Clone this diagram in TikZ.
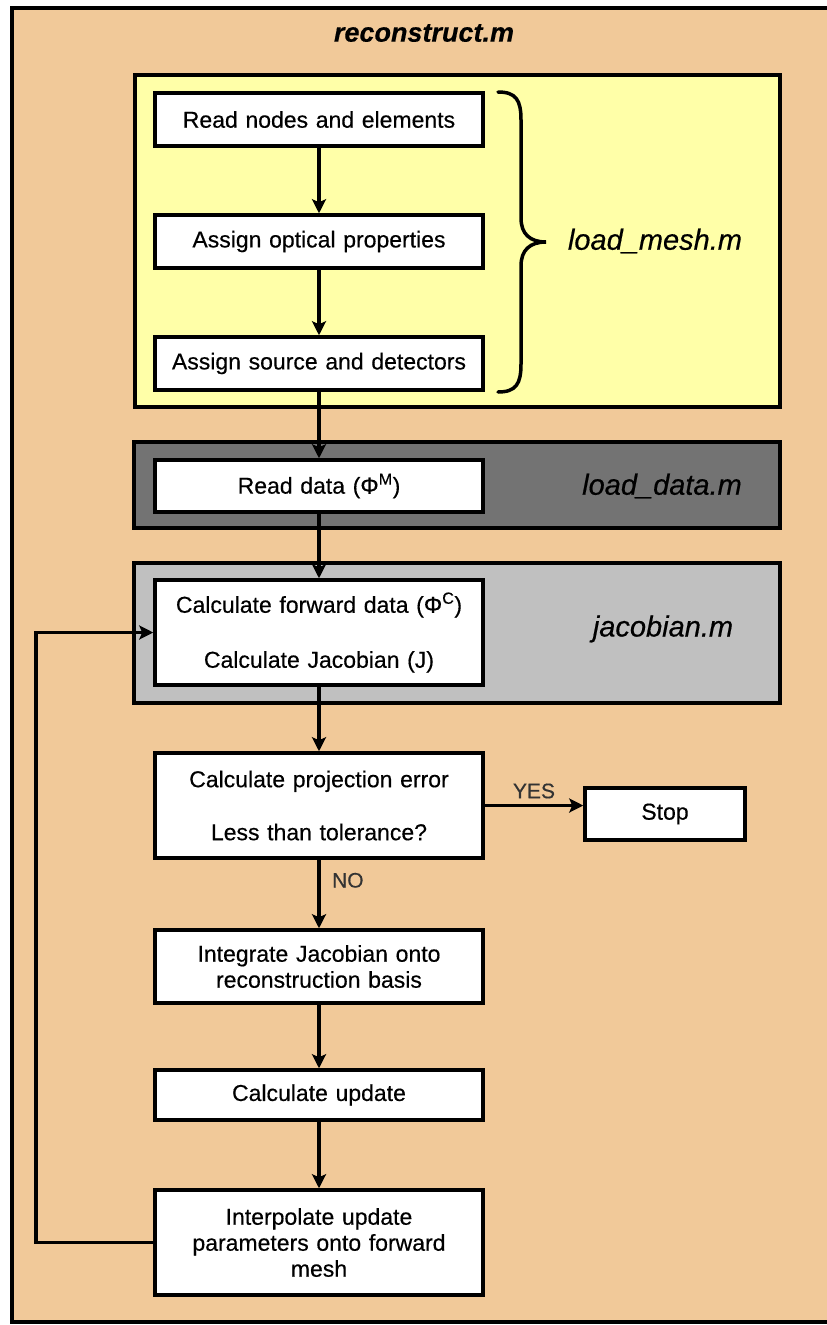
\documentclass[tikz,border=0pt]{standalone}
\usepackage{fontspec}
\setmainfont[FakeBold=0.4]{Liberation Sans}
\usetikzlibrary{arrows.meta}
\definecolor{peach}{HTML}{F1C999}
\definecolor{lemon}{HTML}{FFFFA8}
\definecolor{darkgrp}{HTML}{737373}
\definecolor{lightgrp}{HTML}{C0C0C0}
\begin{document}
\begin{tikzpicture}[x=1pt,y=-1pt,
  box/.style={draw=black, line width=3.5pt, fill=white, inner sep=0pt, align=center,
    font=\fontsize{23}{26}\selectfont, text width=320pt, minimum width=328pt},
  grp/.style={draw=black, line width=4pt, inner sep=0pt},
  modlabel/.style={font=\fontsize{29}{32}\selectfont\itshape},
  arr/.style={line width=3.5pt, -{Stealth[length=14pt,width=14pt,inset=3pt]}},
  yn/.style={font=\fontsize{21}{24}\selectfont, text=black!80}]
\useasboundingbox (0,0) rectangle (827,1325);
\fill[white] (0,0) rectangle (827,1325);
\begin{scope}
\clip (0,0) rectangle (827,1325);
\draw[line width=3.5pt, fill=peach] (12,8) rectangle (860,1322);
\end{scope}
\node[font=\fontsize{27}{30}\selectfont\bfseries\itshape] (title) at (424,33) {reconstruct.m};
% group boxes
\node[grp, fill=lemon, minimum width=645pt, minimum height=332pt] (gmesh) at (457.5,241) {};
\node[grp, fill=darkgrp, minimum width=646pt, minimum height=86pt] (gdata) at (457,485) {};
\node[grp, fill=lightgrp, minimum width=646pt, minimum height=140pt] (gjac) at (457,633) {};
\node[modlabel] (lmesh) at (655,241) {load\_mesh.m};
\node[modlabel] (ldata) at (662,486) {load\_data.m};
\node[modlabel] (ljac) at (663,629) {jacobian.m};
% process boxes
\node[box, minimum height=53pt] (n1) at (319,119.5) {Read nodes and elements};
\node[box, minimum height=53pt] (n2) at (319,241.5) {Assign optical properties};
\node[box, minimum height=53pt] (n3) at (319,363.5) {Assign source and detectors};
\node[box, minimum height=52pt] (rd) at (319,486) {Read data (Φ\textsuperscript{M})};
\node[box, minimum height=105pt] (jc) at (319,632.5) {Calculate forward data (Φ\textsuperscript{C})\\[29pt]Calculate Jacobian (J)};
\node[box, minimum height=105pt] (pe) at (319,805.5) {Calculate projection error\\[27pt]Less than tolerance?};
\node[box, text width=152pt, minimum width=160pt, minimum height=52pt] (stop) at (665,814) {Stop};
\node[box, minimum height=73pt] (ij) at (319,966.5) {Integrate Jacobian onto\\reconstruction basis};
\node[box, minimum height=50pt] (cu) at (319,1095) {Calculate update};
\node[box, minimum height=105pt] (ip) at (319,1242.5) {Interpolate update\\parameters onto forward\\mesh};
% brace
\draw[line width=3.5pt, line cap=round] (498,92) .. controls (516,92) and (521,100) .. (521,120)
  -- (521,218) .. controls (521,234) and (530,242) .. (546,242)
  .. controls (530,242) and (521,250) .. (521,266)
  -- (521,364) .. controls (521,384) and (516,392) .. (498,392);
% connectors
\draw[arr] (n1) -- (n2);
\draw[arr] (n2) -- (n3);
\draw[arr] (n3) -- (rd);
\draw[arr] (rd) -- (jc);
\draw[arr] (jc) -- (pe);
\draw[arr] (pe.east) -- (pe.east -| stop.west) node[yn, midway, above=2pt] (yes) {YES};
\draw[arr] (pe) -- (ij) node[yn, pos=0.3, right=8pt] (no) {NO};
\draw[arr] (ij) -- (cu);
\draw[arr] (cu) -- (ip);
\coordinate (loopx) at (36,0);
\draw[arr] (ip.west) -- (ip.west -| loopx) |- (jc.west);
\end{tikzpicture}
\end{document}
